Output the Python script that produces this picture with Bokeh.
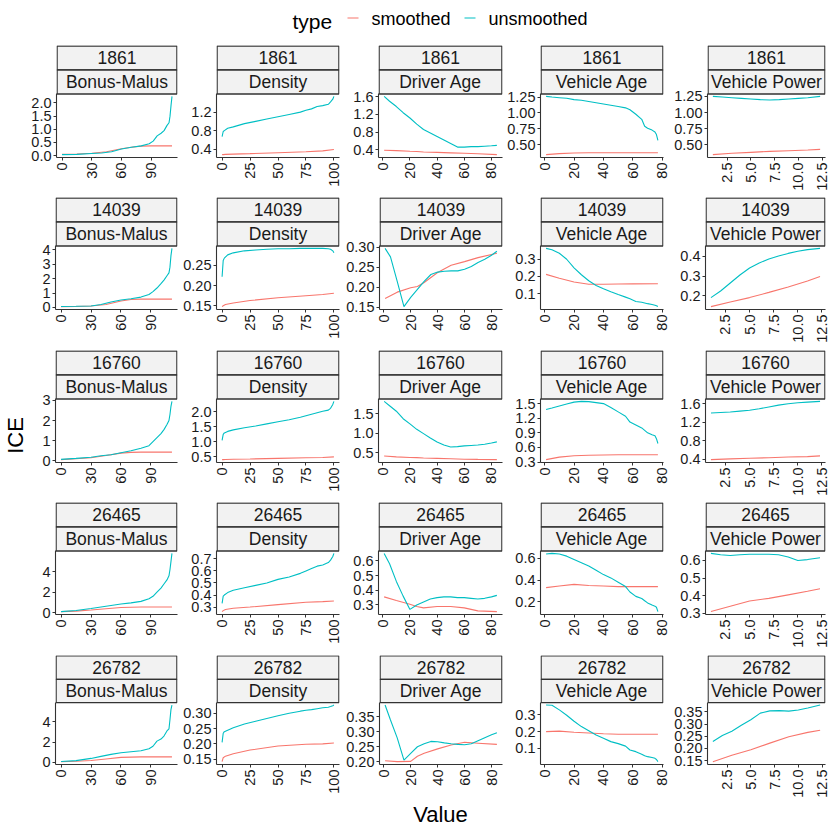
import math
from bokeh.plotting import figure
from bokeh.models import Range1d, FixedTicker, CustomJSTickFormatter
from bokeh.layouts import column, row
from bokeh.core.properties import value
from bokeh.embed import file_html
from bokeh.resources import INLINE

# ---------------- data ----------------
ids = ["1861", "14039", "16760", "26465", "26782"]
var_names = ["Bonus-Malus", "Density", "Driver Age", "Vehicle Age", "Vehicle Power"]
type_labels = ["smoothed", "unsmoothed"]

# Bonus-Malus
bm_x_unsm = [0, 15, 30, 40, 50, 60, 70, 80, 88, 92, 96, 100, 103, 106, 108, 109, 110, 111]
bm_1861_unsm = [0.04, 0.05, 0.08, 0.10, 0.15, 0.25, 0.32, 0.37, 0.45, 0.55, 0.75, 0.85, 0.95, 1.15, 1.25, 1.50, 1.90, 2.25]
bm_14039_unsm = [0.07, 0.08, 0.10, 0.20, 0.38, 0.52, 0.60, 0.72, 0.90, 1.10, 1.35, 1.65, 1.90, 2.20, 2.40, 2.80, 3.60, 4.10]
bm_16760_unsm = [0.07, 0.12, 0.18, 0.25, 0.30, 0.40, 0.50, 0.62, 0.75, 0.95, 1.15, 1.35, 1.55, 1.80, 2.00, 2.30, 2.70, 2.95]
bm_26465_unsm = [0.10, 0.20, 0.40, 0.55, 0.70, 0.85, 0.95, 1.10, 1.35, 1.60, 2.00, 2.40, 2.80, 3.20, 3.60, 4.20, 5.00, 5.80]
bm_26782_unsm = [0.10, 0.18, 0.40, 0.60, 0.80, 0.95, 1.05, 1.15, 1.35, 1.60, 2.10, 2.30, 2.60, 3.10, 3.30, 4.20, 5.20, 5.65]
bm_x_sm = [0, 15, 30, 45, 60, 70, 80, 90, 100, 111]
bm_1861_sm = [0.05, 0.06, 0.09, 0.15, 0.26, 0.32, 0.36, 0.37, 0.37, 0.37]
bm_14039_sm = [0.06, 0.07, 0.10, 0.20, 0.45, 0.55, 0.58, 0.58, 0.58, 0.58]
bm_16760_sm = [0.06, 0.10, 0.15, 0.26, 0.38, 0.42, 0.43, 0.43, 0.43, 0.43]
bm_26465_sm = [0.10, 0.15, 0.25, 0.38, 0.50, 0.53, 0.55, 0.55, 0.55, 0.55]
bm_26782_sm = [0.08, 0.12, 0.20, 0.35, 0.50, 0.53, 0.55, 0.55, 0.55, 0.55]

# Density
den_x_unsm = [0, 1, 2, 5, 10, 20, 30, 40, 50, 60, 70, 75, 80, 85, 90, 95, 97, 99, 100]
den_1861_unsm = [0.67, 0.78, 0.80, 0.85, 0.88, 0.95, 1.00, 1.05, 1.10, 1.15, 1.20, 1.24, 1.27, 1.32, 1.34, 1.37, 1.42, 1.48, 1.54]
den_14039_unsm = [0.222, 0.262, 0.268, 0.276, 0.281, 0.286, 0.288, 0.290, 0.291, 0.291, 0.292, 0.292, 0.292, 0.292, 0.292, 0.291, 0.290, 0.286, 0.281]
den_16760_unsm = [1.05, 1.25, 1.30, 1.35, 1.40, 1.47, 1.53, 1.60, 1.67, 1.74, 1.82, 1.87, 1.92, 1.97, 2.02, 2.06, 2.12, 2.25, 2.35]
den_26465_unsm = [0.33, 0.39, 0.40, 0.42, 0.44, 0.46, 0.48, 0.50, 0.53, 0.55, 0.58, 0.60, 0.62, 0.64, 0.65, 0.67, 0.69, 0.72, 0.746]
den_26782_unsm = [0.205, 0.235, 0.240, 0.245, 0.253, 0.265, 0.274, 0.283, 0.292, 0.300, 0.307, 0.310, 0.312, 0.315, 0.318, 0.320, 0.322, 0.325, 0.327]
den_x_sm = [0, 1, 3, 10, 25, 50, 75, 90, 100]
den_1861_sm = [0.28, 0.28, 0.285, 0.29, 0.30, 0.32, 0.34, 0.36, 0.39]
den_14039_sm = [0.148, 0.150, 0.153, 0.157, 0.163, 0.170, 0.175, 0.178, 0.181]
den_16760_sm = [0.41, 0.41, 0.415, 0.42, 0.43, 0.45, 0.47, 0.48, 0.50]
den_26465_sm = [0.262, 0.270, 0.280, 0.290, 0.300, 0.320, 0.340, 0.345, 0.350]
den_26782_sm = [0.142, 0.155, 0.160, 0.168, 0.180, 0.193, 0.199, 0.200, 0.203]

# Driver Age
da_x_unsm = [1, 5, 10, 15, 20, 25, 30, 35, 40, 45, 50, 55, 60, 65, 70, 75, 80, 84]
da_1861_unsm = [1.61, 1.50, 1.38, 1.24, 1.12, 0.98, 0.86, 0.78, 0.70, 0.62, 0.54, 0.46, 0.46, 0.47, 0.47, 0.48, 0.49, 0.50]
da_14039_unsm = [0.297, 0.276, 0.215, 0.152, 0.175, 0.195, 0.215, 0.232, 0.238, 0.240, 0.241, 0.241, 0.245, 0.252, 0.262, 0.270, 0.280, 0.290]
da_16760_unsm = [1.81, 1.70, 1.56, 1.37, 1.24, 1.10, 0.99, 0.88, 0.78, 0.70, 0.65, 0.66, 0.68, 0.69, 0.70, 0.72, 0.75, 0.78]
da_26465_unsm = [0.65, 0.58, 0.46, 0.36, 0.27, 0.30, 0.32, 0.34, 0.35, 0.355, 0.355, 0.35, 0.35, 0.345, 0.34, 0.345, 0.355, 0.365]
da_26782_unsm = [0.39, 0.34, 0.28, 0.205, 0.228, 0.25, 0.26, 0.268, 0.267, 0.263, 0.26, 0.258, 0.257, 0.26, 0.27, 0.28, 0.29, 0.297]
da_x_sm = [1, 10, 20, 25, 30, 40, 50, 60, 70, 84]
da_1861_sm = [0.39, 0.38, 0.365, 0.36, 0.35, 0.34, 0.33, 0.32, 0.31, 0.29]
da_14039_sm = [0.172, 0.188, 0.199, 0.202, 0.212, 0.237, 0.255, 0.264, 0.274, 0.285]
da_16760_sm = [0.42, 0.40, 0.385, 0.38, 0.37, 0.36, 0.35, 0.34, 0.335, 0.33]
da_26465_sm = [0.355, 0.33, 0.305, 0.29, 0.28, 0.29, 0.29, 0.28, 0.26, 0.255]
da_26782_sm = [0.203, 0.200, 0.201, 0.218, 0.228, 0.243, 0.256, 0.265, 0.262, 0.258]

# Vehicle Age
va_x_unsm = [1, 5, 10, 15, 20, 25, 30, 35, 40, 45, 50, 55, 58, 62, 66, 68, 70, 73, 75, 76, 77]
va_1861_unsm = [1.26, 1.25, 1.24, 1.23, 1.21, 1.20, 1.18, 1.16, 1.14, 1.12, 1.10, 1.08, 1.05, 0.98, 0.90, 0.79, 0.76, 0.73, 0.70, 0.66, 0.57]
va_14039_unsm = [0.363, 0.355, 0.335, 0.300, 0.250, 0.210, 0.175, 0.148, 0.128, 0.111, 0.095, 0.080, 0.070, 0.055, 0.050, 0.046, 0.042, 0.037, 0.033, 0.030, 0.025]
va_16760_unsm = [1.38, 1.41, 1.45, 1.49, 1.53, 1.545, 1.54, 1.52, 1.50, 1.42, 1.33, 1.24, 1.12, 1.06, 1.00, 0.95, 0.90, 0.86, 0.84, 0.78, 0.68]
va_26465_unsm = [0.64, 0.645, 0.64, 0.62, 0.59, 0.56, 0.53, 0.49, 0.45, 0.42, 0.38, 0.34, 0.29, 0.25, 0.23, 0.21, 0.19, 0.17, 0.16, 0.15, 0.11]
va_26782_unsm = [0.359, 0.358, 0.330, 0.298, 0.262, 0.230, 0.205, 0.180, 0.160, 0.140, 0.128, 0.113, 0.090, 0.080, 0.065, 0.055, 0.050, 0.045, 0.040, 0.033, 0.020]
va_x_sm = [1, 10, 20, 30, 40, 50, 60, 77]
va_1861_sm = [0.345, 0.36, 0.37, 0.375, 0.375, 0.375, 0.375, 0.375]
va_14039_sm = [0.212, 0.19, 0.168, 0.155, 0.155, 0.156, 0.157, 0.158]
va_16760_sm = [0.35, 0.40, 0.43, 0.44, 0.445, 0.45, 0.45, 0.45]
va_26465_sm = [0.33, 0.345, 0.36, 0.35, 0.345, 0.34, 0.34, 0.34]
va_26782_sm = [0.20, 0.203, 0.196, 0.192, 0.187, 0.184, 0.184, 0.184]

# Vehicle Power
vp_x_unsm = [1, 2, 3, 4, 5, 6, 7, 8, 9, 10, 11, 12.3]
vp_1861_unsm = [1.25, 1.24, 1.23, 1.22, 1.21, 1.20, 1.195, 1.20, 1.21, 1.22, 1.23, 1.25]
vp_14039_unsm = [0.192, 0.225, 0.265, 0.305, 0.340, 0.365, 0.385, 0.400, 0.413, 0.424, 0.432, 0.438]
vp_16760_unsm = [1.40, 1.41, 1.42, 1.44, 1.46, 1.49, 1.53, 1.57, 1.60, 1.62, 1.635, 1.65]
vp_26465_unsm = [0.64, 0.632, 0.628, 0.632, 0.635, 0.635, 0.635, 0.632, 0.62, 0.60, 0.605, 0.615]
vp_26782_unsm = [0.229, 0.253, 0.271, 0.295, 0.318, 0.345, 0.354, 0.355, 0.353, 0.358, 0.366, 0.378]
vp_x_sm = [1, 3, 5, 7, 9, 11, 12.3]
vp_1861_sm = [0.35, 0.37, 0.385, 0.40, 0.41, 0.42, 0.43]
vp_14039_sm = [0.147, 0.17, 0.192, 0.218, 0.245, 0.275, 0.297]
vp_16760_sm = [0.39, 0.405, 0.42, 0.43, 0.445, 0.455, 0.47]
vp_26465_sm = [0.31, 0.34, 0.37, 0.385, 0.405, 0.425, 0.44]
vp_26782_sm = [0.146, 0.172, 0.195, 0.222, 0.248, 0.266, 0.275]

# tick values
xt_bm = [0, 30, 60, 90]
xt_den = [0, 25, 50, 75, 100]
xt_da = [0, 20, 40, 60, 80]
xt_va = [0, 20, 40, 60, 80]
xt_vp = [2.5, 5, 7.5, 10, 12.5]

yt_1861 = [[0, 0.5, 1, 1.5, 2], [0.4, 0.8, 1.2], [0.4, 0.8, 1.2, 1.6], [0.5, 0.75, 1, 1.25], [0.5, 0.75, 1, 1.25]]
yt_14039 = [[0, 1, 2, 3, 4], [0.15, 0.2, 0.25], [0.15, 0.2, 0.25, 0.3], [0.1, 0.2, 0.3], [0.2, 0.3, 0.4]]
yt_16760 = [[0, 1, 2, 3], [0.5, 1, 1.5, 2], [0.5, 1, 1.5], [0.3, 0.6, 0.9, 1.2, 1.5], [0.4, 0.8, 1.2, 1.6]]
yt_26465 = [[0, 2, 4], [0.3, 0.4, 0.5, 0.6, 0.7], [0.3, 0.4, 0.5, 0.6], [0.2, 0.4, 0.6], [0.3, 0.4, 0.5, 0.6]]
yt_26782 = [[0, 2, 4], [0.15, 0.2, 0.25, 0.3], [0.2, 0.25, 0.3, 0.35], [0.1, 0.2, 0.3], [0.15, 0.2, 0.25, 0.3, 0.35]]

# ---------------- assemble ----------------
x_unsm = [bm_x_unsm, den_x_unsm, da_x_unsm, va_x_unsm, vp_x_unsm]
x_sm = [bm_x_sm, den_x_sm, da_x_sm, va_x_sm, vp_x_sm]
x_ticks = [xt_bm, xt_den, xt_da, xt_va, xt_vp]
unsm = {
    "1861": [bm_1861_unsm, den_1861_unsm, da_1861_unsm, va_1861_unsm, vp_1861_unsm],
    "14039": [bm_14039_unsm, den_14039_unsm, da_14039_unsm, va_14039_unsm, vp_14039_unsm],
    "16760": [bm_16760_unsm, den_16760_unsm, da_16760_unsm, va_16760_unsm, vp_16760_unsm],
    "26465": [bm_26465_unsm, den_26465_unsm, da_26465_unsm, va_26465_unsm, vp_26465_unsm],
    "26782": [bm_26782_unsm, den_26782_unsm, da_26782_unsm, va_26782_unsm, vp_26782_unsm],
}
sm = {
    "1861": [bm_1861_sm, den_1861_sm, da_1861_sm, va_1861_sm, vp_1861_sm],
    "14039": [bm_14039_sm, den_14039_sm, da_14039_sm, va_14039_sm, vp_14039_sm],
    "16760": [bm_16760_sm, den_16760_sm, da_16760_sm, va_16760_sm, vp_16760_sm],
    "26465": [bm_26465_sm, den_26465_sm, da_26465_sm, va_26465_sm, vp_26465_sm],
    "26782": [bm_26782_sm, den_26782_sm, da_26782_sm, va_26782_sm, vp_26782_sm],
}
y_ticks = {"1861": yt_1861, "14039": yt_14039, "16760": yt_16760, "26465": yt_26465, "26782": yt_26782}

FONT = "Liberation Sans"
RED = "#F8766D"
CYAN = "#00BFC4"
TXT = "#1A1A1A"
AX = "#333333"

# layout (page pixels; the Bokeh page has no body margin)
TOTAL_W = 830
LEG_H = 45
YLAB_W = 28
col_bl = [27, 38, 35, 37, 34]     # left border (room for y tick labels)
col_fw = [122, 123, 124, 123, 120]  # frame widths
col_br = [1, 4, 1, 8, 5]          # right border (room for last x tick label)
col_w = [a + b + c for a, b, c in zip(col_bl, col_fw, col_br)]
row_h = [152, 153, 152, 153, 145]
XLAB_H = TOTAL_W - LEG_H - sum(row_h)
STRIP_H = 48   # two strips of 24 px
DATA_H = 64    # data area height
FRAME_H = STRIP_H + DATA_H


def decimals(ticks):
    for d in range(4):
        if all(abs(round(t, d) - t) < 1e-9 for t in ticks):
            return d
    return 3


def padded(lo, hi, f=0.05):
    pad = (hi - lo) * f
    return lo - pad, hi + pad


def make_panel(r, c, pid):
    xs_u, xs_s = x_unsm[c], x_sm[c]
    yu, ys = unsm[pid][c], sm[pid][c]
    xlo, xhi = padded(min(xs_u + xs_s), max(xs_u + xs_s))
    ylo, yhi = padded(min(yu + ys), max(yu + ys))
    # the frame holds the strips on top; data occupy the lower DATA_H pixels
    ytop = yhi + (yhi - ylo) * STRIP_H / DATA_H
    h = row_h[r]
    p = figure(width=col_w[c], height=h, title=None,
               x_range=Range1d(xlo, xhi), y_range=Range1d(ylo, ytop),
               toolbar_location=None, output_backend="svg",
               min_border_left=col_bl[c], min_border_right=col_br[c],
               min_border_top=0, min_border_bottom=h - FRAME_H,
               outline_line_color=None)
    p.extra_x_ranges = {"sx": Range1d(-0.005, 1.005)}
    s_end = 2.02
    p.extra_y_ranges = {"sy": Range1d(s_end - FRAME_H / 24.0, s_end)}
    p.xgrid.visible = False
    p.ygrid.visible = False

    p.line(xs_s, ys, line_color=RED, line_width=1.1)
    p.line(xs_u, yu, line_color=CYAN, line_width=1.1)

    # facet strips
    p.quad(left=[0, 0], right=[1, 1], bottom=[1, 0], top=[2, 1],
           fill_color="#F2F2F2", line_color=AX, line_width=1.3,
           x_range_name="sx", y_range_name="sy")
    p.text(x=[0.5, 0.5], y=[1.5, 0.5], text=[pid, var_names[c]],
           text_font=value(FONT), text_font_size="17.5px", text_color=TXT,
           text_align="center", text_baseline="middle",
           x_range_name="sx", y_range_name="sy")

    xt = x_ticks[c]
    yt = y_ticks[pid][c]
    p.xaxis.ticker = FixedTicker(ticks=xt)
    p.xaxis.formatter = CustomJSTickFormatter(code="return tick.toFixed(%d);" % decimals(xt))
    p.xaxis.major_label_orientation = math.pi / 2
    p.yaxis.ticker = FixedTicker(ticks=yt)
    p.yaxis.formatter = CustomJSTickFormatter(code="return tick.toFixed(%d);" % decimals(yt))
    p.yaxis.bounds = (ylo, yhi)
    for ax in (p.xaxis, p.yaxis):
        ax.axis_line_color = AX
        ax.axis_line_width = 1.1
        ax.major_tick_line_color = AX
        ax.major_tick_out = 3
        ax.major_tick_in = 0
        ax.minor_tick_line_color = None
        ax.major_label_standoff = 2
        ax.major_label_text_font = FONT
        ax.major_label_text_font_size = "14.5px"
        ax.major_label_text_color = TXT
    return p


grid = column(*[row(*[make_panel(r, c, pid) for c in range(5)]) for r, pid in enumerate(ids)])
grid_h = sum(row_h)

# y-axis title (page y of centre: 435)
ylab = figure(width=YLAB_W, height=grid_h, title=None, x_range=Range1d(0, YLAB_W),
              y_range=Range1d(LEG_H + grid_h, LEG_H), x_axis_type=None, y_axis_type=None,
              toolbar_location=None, output_backend="svg", min_border=0,
              outline_line_color=None)
ylab.text(x=[15], y=[435], text=["ICE"], angle=math.pi / 2,
          text_font=value(FONT), text_font_size="22px", text_color="black",
          text_align="center", text_baseline="middle")

# legend
leg = figure(width=TOTAL_W, height=LEG_H, title=None, x_range=Range1d(0, TOTAL_W),
             y_range=Range1d(LEG_H, 0), x_axis_type=None, y_axis_type=None,
             toolbar_location=None, output_backend="svg", min_border=0,
             outline_line_color=None)
leg.text(x=[292], y=[21], text=["type"], text_font=value(FONT), text_font_size="21px",
         text_color="black", text_align="left", text_baseline="middle")
leg.segment(x0=[347, 464], y0=[17.5, 17.5], x1=[358, 475], y1=[17.5, 17.5],
            line_color=[RED, CYAN], line_width=1.2)
leg.text(x=[371, 488], y=[18, 18], text=type_labels, text_font=value(FONT),
         text_font_size="18px", text_color="black", text_align="left", text_baseline="middle")

# x-axis title
y0 = LEG_H + grid_h
xlab = figure(width=TOTAL_W, height=XLAB_H, title=None, x_range=Range1d(0, TOTAL_W),
              y_range=Range1d(y0 + XLAB_H, y0), x_axis_type=None, y_axis_type=None,
              toolbar_location=None, output_backend="svg", min_border=0,
              outline_line_color=None)
xlab.text(x=[440], y=[814], text=["Value"], text_font=value(FONT), text_font_size="22px",
          text_color="black", text_align="center", text_baseline="middle")

layout = column(leg, row(ylab, grid), xlab)

open("out.html", "w").write(file_html(layout, INLINE))
